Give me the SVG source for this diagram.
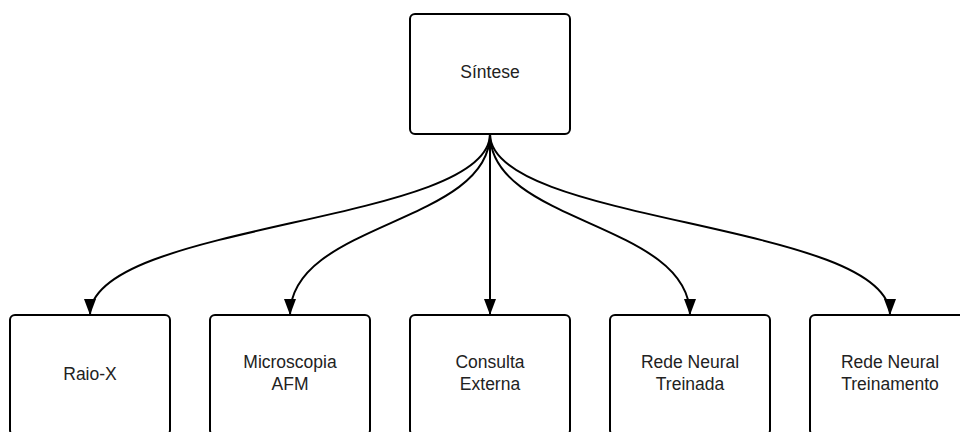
<svg xmlns="http://www.w3.org/2000/svg" width="960" height="432" viewBox="0 0 960 432">
  <style>
    .box { fill: #ffffff; stroke: #000000; stroke-width: 2; }
    .label { font-family: "Liberation Sans", Arial, sans-serif; font-size: 17.5px; fill: #222222; text-anchor: middle; }
    .link { fill: none; stroke: #000000; stroke-width: 2; }
  </style>
  <defs>
    <!-- filled triangular arrowhead, tip on the path end -->
    <marker id="arrow" viewBox="0 0 16 12" refX="16" refY="6" markerWidth="16" markerHeight="12" markerUnits="userSpaceOnUse" orient="auto">
      <path d="M0,0 L16,6 L0,12 Z" fill="#000000"/>
    </marker>
  </defs>
  <rect width="960" height="432" fill="#ffffff"/>

  <g id="connectors">
    <path class="link" marker-end="url(#arrow)" d="M490,134 C490,224 90,222 90,315"/>
    <path class="link" marker-end="url(#arrow)" d="M490,134 C490,224 290,222 290,315"/>
    <path class="link" marker-end="url(#arrow)" d="M490,134 L490,315"/>
    <path class="link" marker-end="url(#arrow)" d="M490,134 C490,224 690,222 690,315"/>
    <path class="link" marker-end="url(#arrow)" d="M490,134 C490,224 890,222 890,315"/>
  </g>

  <g id="sintese">
    <rect class="box" x="410" y="14" width="160" height="120" rx="5"/>
    <text class="label" x="490" y="78">Síntese</text>
  </g>
  <g id="raio-x">
    <rect class="box" x="10" y="315" width="160" height="120" rx="5"/>
    <text class="label" x="90" y="379.5">Raio-X</text>
  </g>
  <g id="microscopia-afm">
    <rect class="box" x="210" y="315" width="160" height="120" rx="5"/>
    <text class="label" x="290" y="368">Microscopia</text>
    <text class="label" x="290" y="389.5">AFM</text>
  </g>
  <g id="consulta-externa">
    <rect class="box" x="410" y="315" width="160" height="120" rx="5"/>
    <text class="label" x="490" y="368">Consulta</text>
    <text class="label" x="490" y="389.5">Externa</text>
  </g>
  <g id="rede-neural-treinada">
    <rect class="box" x="610" y="315" width="160" height="120" rx="5"/>
    <text class="label" x="690" y="368">Rede Neural</text>
    <text class="label" x="690" y="389.5">Treinada</text>
  </g>
  <g id="rede-neural-treinamento">
    <rect class="box" x="810" y="315" width="160" height="120" rx="5"/>
    <text class="label" x="890" y="368">Rede Neural</text>
    <text class="label" x="890" y="389.5">Treinamento</text>
  </g>
</svg>
